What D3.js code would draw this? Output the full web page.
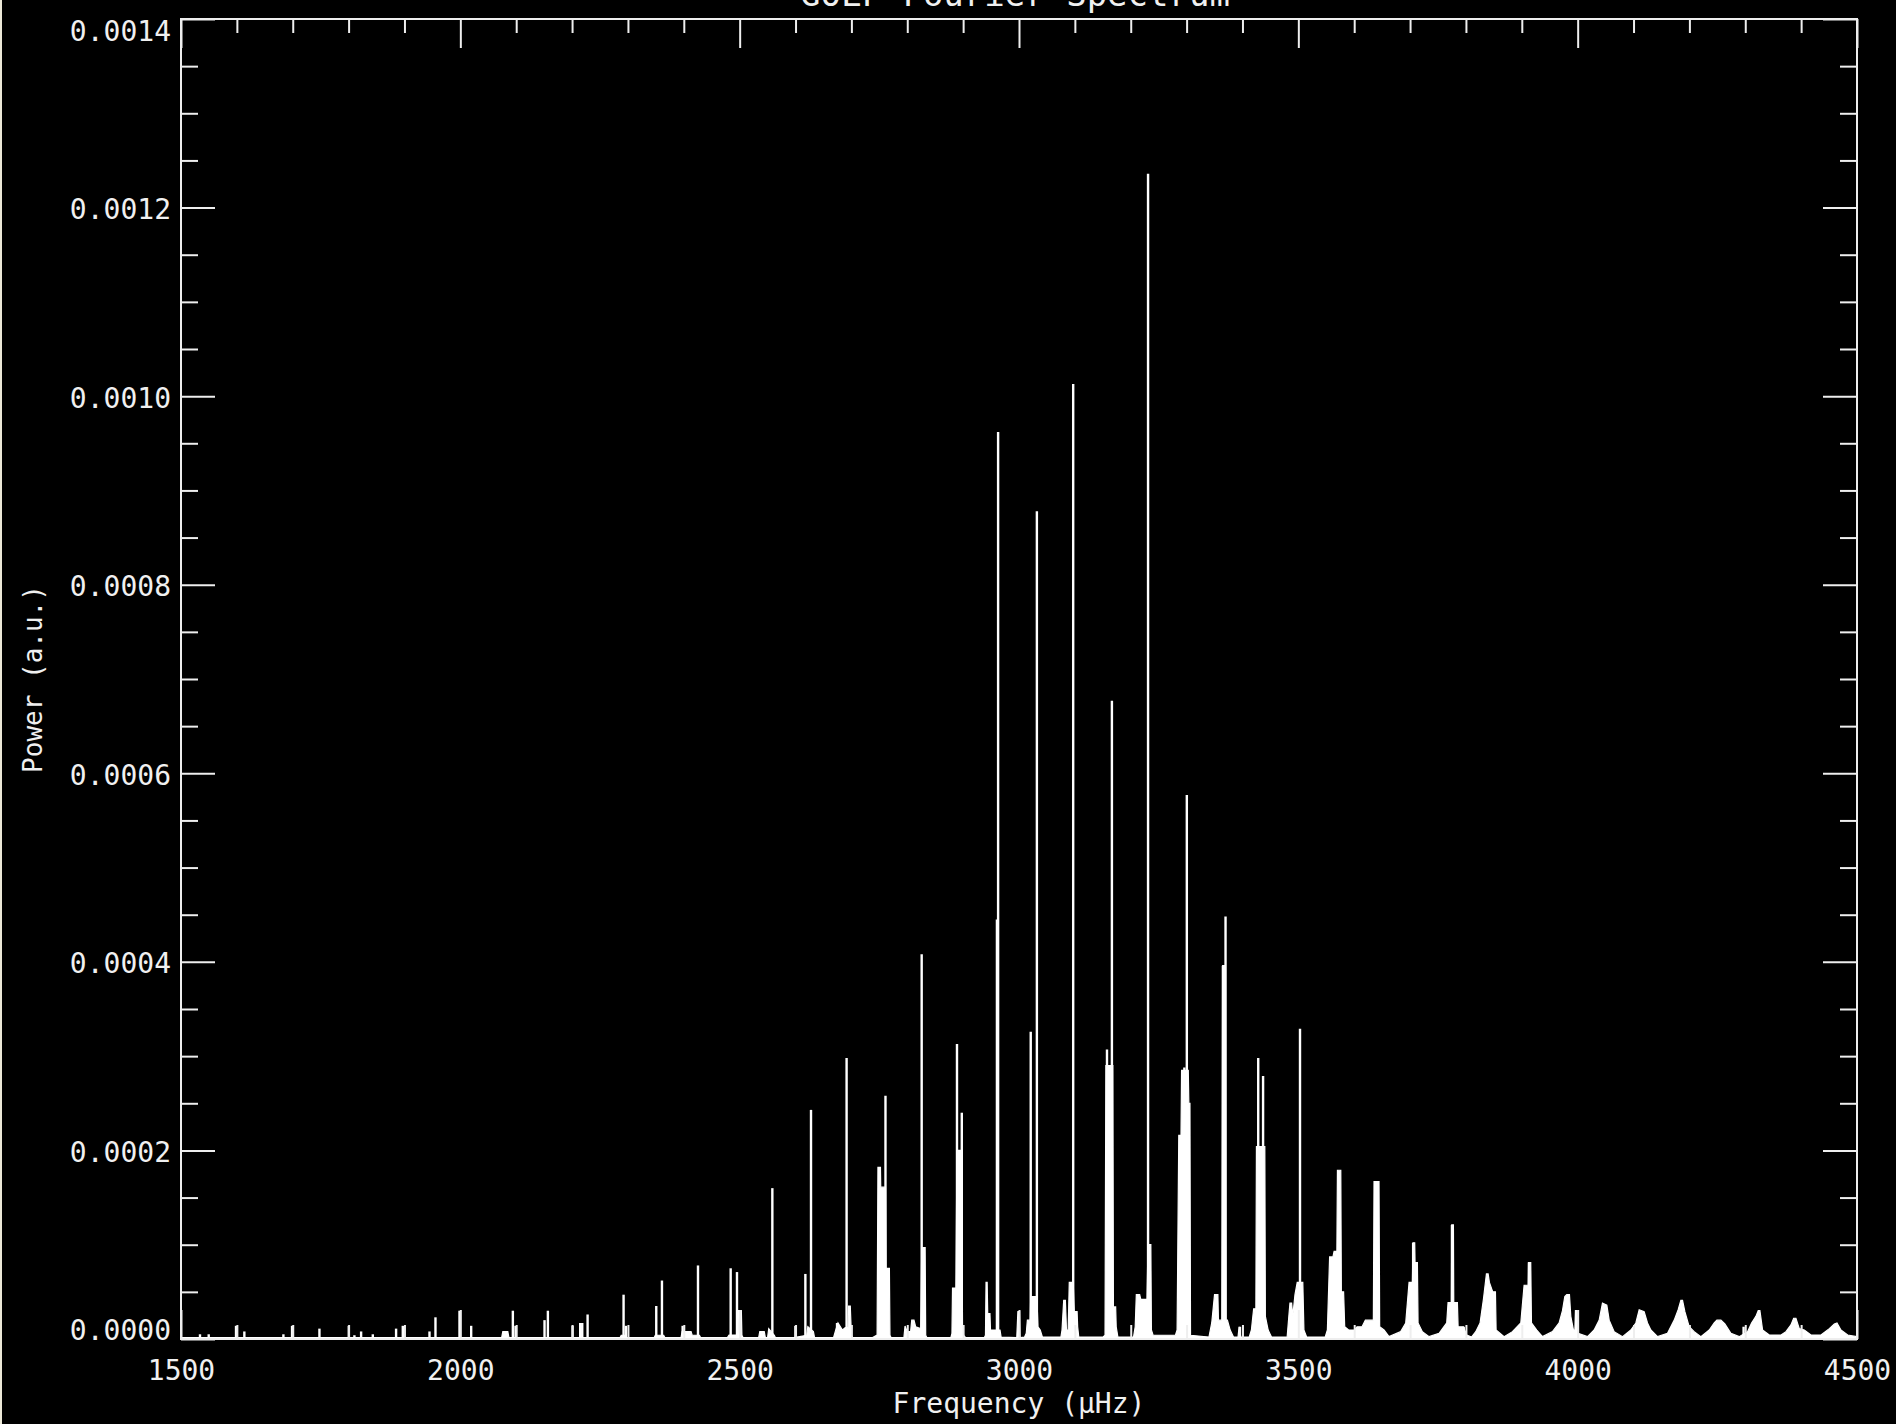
<!DOCTYPE html>
<html>
<head>
<meta charset="utf-8">
<script src="https://cdn.jsdelivr.net/npm/d3@7"></script>
<style>
  html, body { margin: 0; padding: 0; background: #000; }
  svg { display: block; }
  text { font-family: "DejaVu Sans Mono", "Liberation Mono", monospace; fill: #f0f0f0; }
</style>
</head>
<body>
<svg id="chart" width="1896" height="1424"></svg>
<script>
// GOLF power spectrum, power in units of 1e-6 (a.u.)

// Axis ticks
const xMajorTicks = [1500, 2000, 2500, 3000, 3500, 4000, 4500];
const yMajorTicks = [0, 200, 400, 600, 800, 1000, 1200, 1400];

// Narrow p-mode peaks: [frequency (µHz), power (1e-6 a.u.)]
const modePeaks = [
  [1534, 5], [1549.6, 5], [1598.5, 14], [1613.4, 8], [1683.3, 5], [1698.8, 14],
  [1747.8, 11], [1800.3, 14], [1810.4, 4], [1822.4, 8], [1843.3, 5], [1885, 11],
  [1897, 14], [1944.8, 8], [1955.5, 23], [1998.5, 30], [2019.4, 14], [2094, 30],
  [2098.8, 14], [2150.7, 20], [2156.7, 30], [2200.9, 14], [2214.6, 17], [2218.2, 17],
  [2227.8, 26], [2292.2, 47], [2296.4, 14], [2350.7, 35], [2360.9, 62], [2397.9, 14],
  [2425.4, 78], [2483.9, 75], [2495.2, 71], [2558.5, 160], [2599.7, 14], [2617.6, 69],
  [2627.7, 243], [2674.3, 17], [2691.4, 298], [2761, 258], [2825.8, 408], [2889, 313],
  [2897.6, 240], [2960.5, 445], [2962.6, 962], [3021, 326], [3032, 878], [3097, 1013],
  [3157.5, 307], [3166.3, 677], [3231, 1236], [3296, 288], [3300.4, 577], [3365, 396],
  [3369.7, 448], [3395.5, 13], [3428.2, 298], [3436.9, 279], [3503, 329], [3705.5, 102],
  [3775, 121], [3796, 13], [3913, 81], [3997.5, 30], [4297, 13]
];

// Background continuum and broadened mode profiles: [frequency (µHz), power (1e-6 a.u.)]
const continuum = [
  [1500, 1.5], [2074, 1.5], [2076, 7.8], [2085, 7.8], [2087, 1.5],
  [2286, 1.5], [2288, 4], [2296, 4], [2298, 1.5],
  [2347, 1.5], [2349, 4], [2364, 4], [2366, 1.5],
  [2395, 1.5], [2397, 7.8], [2413, 7.8], [2415, 4], [2428, 4], [2430, 1.5],
  [2478, 1.5], [2481, 4.2], [2497, 4.2], [2498, 30], [2503, 30], [2504, 4], [2506, 1.5],
  [2534, 1.5], [2536, 7.8], [2544, 7.8], [2546, 1.5], [2550, 1.5], [2552, 11], [2562, 4], [2564, 1.5],
  [2597, 1.5], [2620, 4], [2622, 13], [2632, 7.8], [2634, 1.5],
  [2668, 1.5], [2672, 9.5], [2676, 17], [2684, 9.5], [2689, 12], [2694, 12], [2695, 35], [2698, 35], [2700, 4], [2702, 1.5],
  [2738, 1.5], [2746, 4.2], [2747.5, 182], [2752, 182], [2752.5, 161], [2761, 161], [2762, 75], [2768, 75], [2769, 4], [2771, 1.5],
  [2794, 1.5], [2796, 13.8], [2800, 7.8], [2806, 7.8], [2808, 20], [2812, 20], [2815, 13], [2824, 11], [2826, 97], [2832, 97], [2833, 4], [2835, 1.5],
  [2878, 1.5], [2880, 6], [2881, 54], [2887, 54], [2889, 200], [2897, 200], [2899, 6], [2902, 3], [2905, 1.5],
  [2938, 1.5], [2940, 4], [2941, 60], [2943, 60], [2944, 27], [2948, 27], [2949, 9.5], [2966, 9.5], [2968, 2],
  [2996, 1.5], [2998, 29], [3001, 29], [3002, 1.5],
  [3010, 2], [3013, 6], [3015, 20], [3020, 20], [3021, 45], [3032, 45], [3034, 13], [3038, 9.5], [3042, 2],
  [3075, 2], [3077, 9.5], [3080, 41], [3083, 41], [3085, 9.5], [3088, 9.5], [3090, 60], [3097, 60], [3099, 29], [3104, 29], [3105, 13], [3107, 2],
  [3150, 2], [3154, 4], [3155.5, 290], [3168, 290], [3169, 34], [3173, 34], [3174, 13], [3177, 2],
  [3205, 2], [3208, 13], [3210, 47], [3216, 47], [3218, 42], [3229, 42], [3231, 100], [3236, 100], [3237, 9.5], [3240, 4],
  [3280, 4], [3283, 9.5], [3286, 216], [3290, 216], [3291, 285], [3303, 285], [3304, 250], [3306, 250], [3307, 4],
  [3340, 2], [3345, 17], [3350, 47], [3356, 47], [3357, 20], [3363, 20], [3364.5, 396], [3369.5, 396], [3370.5, 20], [3373, 20], [3378, 9.5], [3384, 2],
  [3392, 2], [3394, 13], [3397, 2],
  [3412, 2], [3416, 9.5], [3420, 32], [3424, 32], [3425, 204], [3440, 204], [3441, 24], [3446, 9.5], [3452, 2],
  [3480, 2], [3483, 24], [3485, 38], [3488, 38], [3490, 24], [3494, 47], [3498, 60], [3508, 60], [3510, 9.5], [3515, 2],
  [3548, 2], [3552, 9.5], [3556, 87], [3562, 87], [3564, 93], [3569, 93], [3570, 179], [3576, 179], [3577, 50], [3581, 50], [3583, 13], [3590, 9.5],
  [3600, 9.5], [3605, 13], [3614, 13], [3620, 20], [3634.3, 20], [3635.5, 167], [3644.4, 167], [3645.6, 13], [3653.4, 9.5], [3662.3, 2.5],
  [3683.2, 7.8], [3692.2, 17], [3698.2, 60], [3704.1, 60], [3705.3, 102], [3708.3, 102], [3708.9, 81], [3713.1, 81], [3714.3, 17], [3722, 7.8], [3734, 2.5],
  [3751.9, 6], [3765.6, 17], [3768, 38.5], [3774, 38.5], [3774.6, 121], [3777.6, 121], [3778.2, 38.5], [3784.7, 38.5], [3786, 13], [3795.5, 13], [3801.4, 4.2], [3810, 2],
  [3817.6, 7.8], [3825.3, 17], [3831.3, 42], [3836.7, 69], [3839.7, 69], [3842, 60], [3848, 50], [3852.8, 50], [3854, 9.5], [3868.3, 2.5],
  [3883.2, 7.8], [3898.2, 17], [3904.1, 57], [3911.3, 57], [3911.9, 81], [3916, 81], [3917.3, 17], [3926.8, 9.5], [3937, 2.5],
  [3954.9, 7.8], [3966.8, 17], [3972.8, 30], [3977, 45], [3980.5, 47], [3985.3, 47], [3987.7, 24], [3992.5, 9.5], [3995, 9.5], [3996, 30], [3999, 30], [4000.8, 6], [4017.6, 2.5],
  [4029.5, 9.5], [4038.5, 20], [4044.4, 38], [4052.2, 36], [4056.4, 20], [4065.3, 7.8], [4080.3, 2.5],
  [4095.2, 9.5], [4104.1, 17], [4110.1, 31], [4119, 29], [4125, 17], [4131, 9.5], [4143, 2.5],
  [4160.8, 6], [4172.8, 20], [4179.9, 31], [4184.7, 41], [4187.7, 41], [4191.9, 29], [4199.6, 13], [4208.6, 7.8], [4220.5, 2.5],
  [4235.5, 9.5], [4244.4, 17], [4249.2, 20], [4256.4, 20], [4263.5, 16], [4274.3, 6], [4289.2, 2.5],
  [4304.1, 7.8], [4311.3, 17], [4319, 24], [4323.2, 30], [4326.2, 30], [4331, 9.5], [4343, 4.2], [4364, 4.2],
  [4372.8, 7.8], [4381.8, 15], [4386.6, 22], [4390.7, 22], [4396.7, 11], [4405.7, 9.5], [4417.6, 4.2], [4435.5, 4.2],
  [4450.4, 11], [4459.4, 16], [4464.2, 17], [4471.3, 9.5], [4483.3, 4.2], [4500, 2.5]
];

const svg = d3.select("#chart");
const W = 1896, H = 1424;
const plot = { left: 181, right: 1857, top: 19, bottom: 1339 };
const ink = "#eeeeee";

svg.append("rect").attr("width", W).attr("height", H).attr("fill", "#000");
// window border strip on the left edge
svg.append("rect").attr("x", 0).attr("y", 0).attr("width", 2).attr("height", H).attr("fill", "#ece9d8");

const x = d3.scaleLinear().domain([1500, 4500]).range([plot.left, plot.right]);
const y = d3.scaleLinear().domain([0, 1400]).range([plot.bottom, plot.top]);

const xMinorTicks = d3.range(1500, 4501, 100).filter(v => !xMajorTicks.includes(v));
const yMinorTicks = d3.range(0, 1401, 50).filter(v => !yMajorTicks.includes(v));

svg.append("clipPath").attr("id", "plotClip")
  .append("rect").attr("x", plot.left).attr("y", plot.top)
  .attr("width", plot.right - plot.left).attr("height", plot.bottom - plot.top);

const data = svg.append("g").attr("clip-path", "url(#plotClip)");

// continuum as a filled profile
const area = d3.area()
  .x(d => x(d[0]))
  .y0(y(0))
  .y1(d => y(d[1]));
data.append("path").datum(continuum)
  .attr("d", area)
  .attr("fill", "#ffffff")
  .attr("stroke", "#ffffff")
  .attr("stroke-width", 1.2)
  .attr("stroke-linejoin", "miter");

// narrow peaks as vertical spikes
data.selectAll("line.peak").data(modePeaks).join("line")
  .attr("class", "peak")
  .attr("x1", d => x(d[0])).attr("x2", d => x(d[0]))
  .attr("y1", y(0)).attr("y2", d => y(d[1]))
  .attr("stroke", "#ffffff")
  .attr("stroke-width", 2.4);

// axes: ticks point inward on all four sides
function styleAxis(g) {
  g.select(".domain").remove();
  g.selectAll(".tick line").attr("stroke", ink).attr("stroke-width", 2);
}

const fmtX = d3.format("d");
const fmtY = v => (v * 1e-6).toFixed(4);

// bottom
svg.append("g").attr("transform", `translate(0,${plot.bottom})`)
  .call(d3.axisBottom(x).tickValues(xMinorTicks).tickSizeInner(-14).tickSizeOuter(0).tickFormat(""))
  .call(styleAxis);
const bottomMajor = svg.append("g").attr("transform", `translate(0,${plot.bottom})`)
  .call(d3.axisBottom(x).tickValues(xMajorTicks).tickSizeInner(-29).tickSizeOuter(0).tickFormat(fmtX))
  .call(styleAxis);
bottomMajor.selectAll(".tick text")
  .attr("y", 41).attr("dy", 0)
  .attr("fill", ink).attr("font-size", 28)
  .attr("font-family", "DejaVu Sans Mono");

// top
svg.append("g").attr("transform", `translate(0,${plot.top})`)
  .call(d3.axisTop(x).tickValues(xMinorTicks).tickSizeInner(-14).tickSizeOuter(0).tickFormat(""))
  .call(styleAxis);
svg.append("g").attr("transform", `translate(0,${plot.top})`)
  .call(d3.axisTop(x).tickValues(xMajorTicks).tickSizeInner(-29).tickSizeOuter(0).tickFormat(""))
  .call(styleAxis);

// left
svg.append("g").attr("transform", `translate(${plot.left},0)`)
  .call(d3.axisLeft(y).tickValues(yMinorTicks).tickSizeInner(-17).tickSizeOuter(0).tickFormat(""))
  .call(styleAxis);
const leftMajor = svg.append("g").attr("transform", `translate(${plot.left},0)`)
  .call(d3.axisLeft(y).tickValues(yMajorTicks).tickSizeInner(-34).tickSizeOuter(0).tickFormat(fmtY))
  .call(styleAxis);
leftMajor.selectAll(".tick text")
  .attr("x", -10).attr("dy", 0)
  .attr("y", d => d === 0 ? 0 : (d === 1400 ? 21 : 11))
  .attr("fill", ink).attr("font-size", 28)
  .attr("font-family", "DejaVu Sans Mono");

// right
svg.append("g").attr("transform", `translate(${plot.right},0)`)
  .call(d3.axisRight(y).tickValues(yMinorTicks).tickSizeInner(-17).tickSizeOuter(0).tickFormat(""))
  .call(styleAxis);
svg.append("g").attr("transform", `translate(${plot.right},0)`)
  .call(d3.axisRight(y).tickValues(yMajorTicks).tickSizeInner(-34).tickSizeOuter(0).tickFormat(""))
  .call(styleAxis);

// plot frame
svg.append("rect")
  .attr("x", plot.left).attr("y", plot.top)
  .attr("width", plot.right - plot.left).attr("height", plot.bottom - plot.top)
  .attr("fill", "none").attr("stroke", ink).attr("stroke-width", 2);

// titles (the main title sits at the very top edge of the window)
svg.append("text")
  .attr("x", (plot.left + plot.right) / 2 - 4).attr("y", 6)
  .attr("text-anchor", "middle").attr("font-size", 34)
  .text("GOLF Fourier Spectrum");

svg.append("text")
  .attr("x", (plot.left + plot.right) / 2).attr("y", 1413)
  .attr("text-anchor", "middle").attr("font-size", 28)
  .text("Frequency (\u00B5Hz)");

svg.append("text")
  .attr("transform", `translate(42,${(plot.top + plot.bottom) / 2}) rotate(-90)`)
  .attr("text-anchor", "middle").attr("font-size", 26)
  .text("Power (a.u.)");
</script>
</body>
</html>
